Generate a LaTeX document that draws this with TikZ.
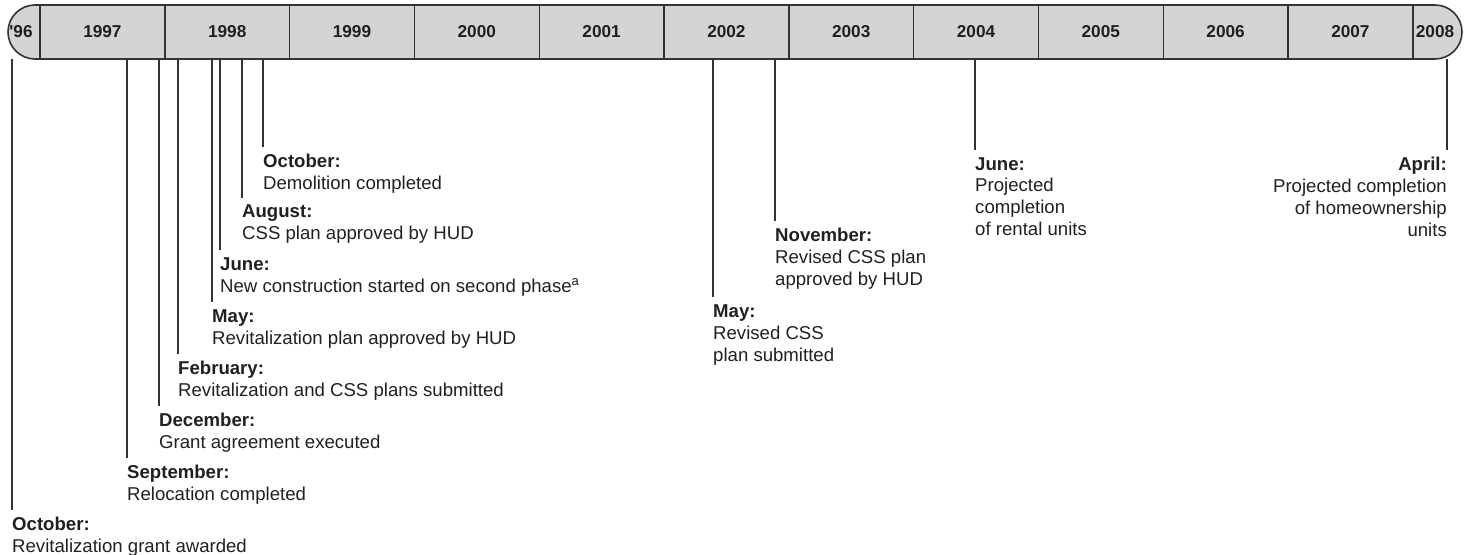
\documentclass[tikz,border=0pt]{standalone}
\usepackage{fontspec}
\setmainfont{Liberation Sans}
\newfontfamily\yearfont{Liberation Sans}
\definecolor{ink}{HTML}{231F20}
\definecolor{barfill}{HTML}{D3D4D6}
\definecolor{rulegray}{HTML}{333333}
\begin{document}
\begin{tikzpicture}[x=1pt,y=-1pt,
  bar/.style={draw=rulegray, line width=1.6pt, fill=barfill, rounded corners=27pt},
  divider/.style={draw=rulegray, line width=1.4pt},
  yearlbl/.style={font=\yearfont\bfseries\fontsize{17.2}{20}\selectfont, text=ink, inner sep=0pt},
  evline/.style={draw=rulegray, line width=1.2pt},
  evl/.style={inner sep=0pt, align=left, anchor=north west,
    font=\fontsize{18.6}{22}\selectfont, text=ink},
  evr/.style={evl, align=right, anchor=north east}]
\useasboundingbox (0,0) rectangle (1469,554);

% event ticks on the underside of the year bar
\coordinate (t1) at (12,59);
\coordinate (t2) at (127,59);
\coordinate (t3) at (159,59);
\coordinate (t4) at (178,59);
\coordinate (t5) at (212,59);
\coordinate (t6) at (220,59);
\coordinate (t7) at (242,59);
\coordinate (t8) at (263,59);
\coordinate (t9) at (713,59);
\coordinate (t10) at (775,59);
\coordinate (t11) at (975,59);
\coordinate (t12) at (1447,59);

% event labels
\node[evl] (e1) at (12,517) {\textbf{October:}\\Revitalization grant awarded};
\node[evl] (e2) at (127,465) {\textbf{September:}\\Relocation completed};
\node[evl] (e3) at (159,413) {\textbf{December:}\\Grant agreement executed};
\node[evl] (e4) at (178,361) {\textbf{February:}\\Revitalization and CSS plans submitted};
\node[evl] (e5) at (212,309) {\textbf{May:}\\Revitalization plan approved by HUD};
\node[evl] (e6) at (220,257) {\textbf{June:}\\New construction started on second phase\textsuperscript{a}};
\node[evl] (e7) at (242,205) {\textbf{August:}\\CSS plan approved by HUD};
\node[evl] (e8) at (263,154) {\textbf{October:}\\Demolition completed};
\node[evl] (e9) at (713,304) {\textbf{May:}\\Revised CSS\\plan submitted};
\node[evl] (e10) at (775,228) {\textbf{November:}\\Revised CSS plan\\approved by HUD};
\node[evl] (e11) at (975,157) {\textbf{June:}\\Projected\\completion\\of rental units};
\node[evr] (e12) at (1447,157) {\textbf{April:}\\Projected completion\\of homeownership\\units};

% leader lines
\foreach \i in {1,...,11}
  \draw[evline] (t\i) -- ([yshift=7pt]e\i.north west);
\draw[evline] (t12) -- ([yshift=7pt]e12.north east);

% year bar
\path[bar] (8,5) rectangle (1462,59);
\foreach \x in {40,164.8,289.6,414.4,539.2,664,788.8,913.6,1038.4,1163.2,1288,1412.8}
  \draw[divider] (\x,5) -- (\x,59);

\node[yearlbl] (y1996) at (21,32) {'96};
\node[yearlbl] (y1997) at (102.4,32) {1997};
\node[yearlbl] (y1998) at (227.2,32) {1998};
\node[yearlbl] (y1999) at (352,32) {1999};
\node[yearlbl] (y2000) at (476.8,32) {2000};
\node[yearlbl] (y2001) at (601.6,32) {2001};
\node[yearlbl] (y2002) at (726.4,32) {2002};
\node[yearlbl] (y2003) at (851.2,32) {2003};
\node[yearlbl] (y2004) at (976,32) {2004};
\node[yearlbl] (y2005) at (1100.8,32) {2005};
\node[yearlbl] (y2006) at (1225.6,32) {2006};
\node[yearlbl] (y2007) at (1350.4,32) {2007};
\node[yearlbl] (y2008) at (1435,32) {2008};
\end{tikzpicture}
\end{document}
